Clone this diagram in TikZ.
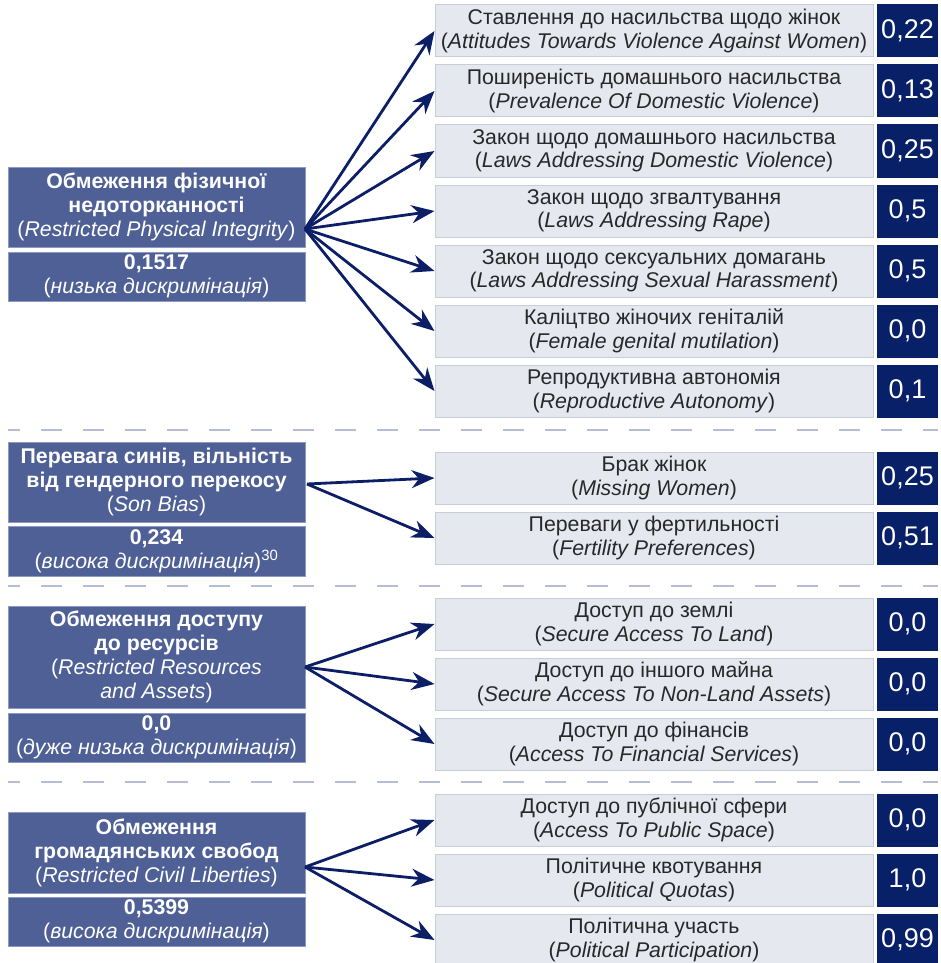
\documentclass[tikz,border=0pt]{standalone}
\usepackage{fontspec}
\setmainfont{Liberation Sans}
\usetikzlibrary{arrows.meta}
\definecolor{leftfill}{RGB}{78,96,150}
\definecolor{leftedge}{RGB}{140,154,195}
\definecolor{lightfill}{RGB}{229,232,239}
\definecolor{lightedge}{RGB}{200,205,218}
\definecolor{darkblue}{RGB}{8,32,104}
\definecolor{arrowblue}{RGB}{12,30,102}
\definecolor{textgray}{RGB}{40,40,40}
\definecolor{dashc}{RGB}{180,188,214}
\begin{document}
\begin{tikzpicture}[x=1pt,y=-1pt,
  rowbox/.style={draw=lightedge, fill=lightfill, line width=1pt, minimum width=438pt, minimum height=52pt, inner sep=0pt, align=center, text=textgray, font=\fontsize{21.3}{23.5}\selectfont},
  valbox/.style={fill=darkblue, minimum width=61pt, minimum height=53pt, inner sep=0pt, text=white, font=\fontsize{27}{29}\selectfont},
  leftbox/.style={draw=leftedge, fill=leftfill, line width=1pt, minimum width=297pt, inner sep=0pt, align=center, text=white, font=\fontsize{21.3}{24}\selectfont},
  arr/.style={draw=arrowblue, line width=2.8pt, -{Stealth[length=23pt,width=18pt]}},
  sep/.style={draw=dashc, line width=1.5pt, dash pattern=on 21pt off 21pt, dash phase=9pt}]
\useasboundingbox (0,0) rectangle (941,963);

% ---------- Section 1 ----------
\node[leftbox, minimum height=80pt] (t1) at (156.5,207) {\textbf{Обмеження фізичної}\\\textbf{недоторканності}\\(\textit{Restricted Physical Integrity})};
\node[leftbox, minimum height=49pt] (v1) at (156.5,276.5) {\textbf{0,1517}\\(\textit{низька дискримінація})};
\coordinate (o1) at (305,229);

\node[rowbox] (r11) at (654,31) {Ставлення до насильства щодо жінок\\(\textit{Attitudes Towards Violence Against Women})};
\node[rowbox] (r12) at (654,91) {Поширеність домашнього насильства\\(\textit{Prevalence Of Domestic Violence})};
\node[rowbox] (r13) at (654,151) {Закон щодо домашнього насильства\\(\textit{Laws Addressing Domestic Violence})};
\node[rowbox] (r14) at (654,211) {Закон щодо згвалтування\\(\textit{Laws Addressing Rape})};
\node[rowbox] (r15) at (654,271) {Закон щодо сексуальних домагань\\(\textit{Laws Addressing Sexual Harassment})};
\node[rowbox] (r16) at (654,331) {Каліцтво жіночих геніталій\\(\textit{Female genital mutilation})};
\node[rowbox] (r17) at (654,391) {Репродуктивна автономія\\(\textit{Reproductive Autonomy})};

\node[valbox] (n11) at (907.5,31) {0,22};
\node[valbox] (n12) at (907.5,91) {0,13};
\node[valbox] (n13) at (907.5,151) {0,25};
\node[valbox] (n14) at (907.5,211) {0,5};
\node[valbox] (n15) at (907.5,271) {0,5};
\node[valbox] (n16) at (907.5,331) {0,0};
\node[valbox] (n17) at (907.5,391) {0,1};

\foreach \r in {r11,r12,r13,r14,r15,r16,r17} \draw[arr] (o1) -- (\r.west);

\draw[sep] (8,430) -- (938,430);

% ---------- Section 2 ----------
\node[leftbox, minimum height=80pt] (t2) at (156.5,482) {\textbf{Перевага синів, вільність}\\\textbf{від гендерного перекосу}\\(\textit{Son Bias})};
\node[leftbox, minimum height=50pt] (v2) at (156.5,551) {\textbf{0,234}\\(\textit{висока дискримінація})\textsuperscript{30}};
\coordinate (o2) at (307,484);

\node[rowbox] (r21) at (654,478) {Брак жінок\\(\textit{Missing Women})};
\node[rowbox] (r22) at (654,538) {Переваги у фертильності\\(\textit{Fertility Preferences})};
\node[valbox] (n21) at (907.5,478) {0,25};
\node[valbox] (n22) at (907.5,538) {0,51};

\foreach \r in {r21,r22} \draw[arr] (o2) -- (\r.west);

\draw[sep] (8,586) -- (938,586);

% ---------- Section 3 ----------
\node[leftbox, minimum height=102pt] (t3) at (156.5,657) {\textbf{Обмеження доступу}\\\textbf{до ресурсів}\\(\textit{Restricted Resources}\\\textit{and Assets})};
\node[leftbox, minimum height=49pt] (v3) at (156.5,737.5) {\textbf{0,0}\\(\textit{дуже низька дискримінація})};
\coordinate (o3) at (305,667);

\node[rowbox] (r31) at (654,624) {Доступ до землі\\(\textit{Secure Access To Land})};
\node[rowbox] (r32) at (654,684) {Доступ до іншого майна\\(\textit{Secure Access To Non-Land Assets})};
\node[rowbox] (r33) at (654,744) {Доступ до фінансів\\(\textit{Access To Financial Services})};
\node[valbox] (n31) at (907.5,624) {0,0};
\node[valbox] (n32) at (907.5,684) {0,0};
\node[valbox] (n33) at (907.5,744) {0,0};

\foreach \r in {r31,r32,r33} \draw[arr] (o3) -- (\r.west);

\draw[sep] (8,782) -- (938,782);

% ---------- Section 4 ----------
\node[leftbox, minimum height=81pt] (t4) at (156.5,852.5) {\textbf{Обмеження}\\\textbf{громадянських свобод}\\(\textit{Restricted Civil Liberties})};
\node[leftbox, minimum height=49pt] (v4) at (156.5,921.5) {\textbf{0,5399}\\(\textit{висока дискримінація})};
\coordinate (o4) at (305,867);

\node[rowbox] (r41) at (654,820) {Доступ до публічної сфери\\(\textit{Access To Public Space})};
\node[rowbox] (r42) at (654,880) {Політичне квотування\\(\textit{Political Quotas})};
\node[rowbox] (r43) at (654,940) {Політична участь\\(\textit{Political Participation})};
\node[valbox] (n41) at (907.5,820) {0,0};
\node[valbox] (n42) at (907.5,880) {1,0};
\node[valbox] (n43) at (907.5,940) {0,99};

\foreach \r in {r41,r42,r43} \draw[arr] (o4) -- (\r.west);
\end{tikzpicture}
\end{document}
